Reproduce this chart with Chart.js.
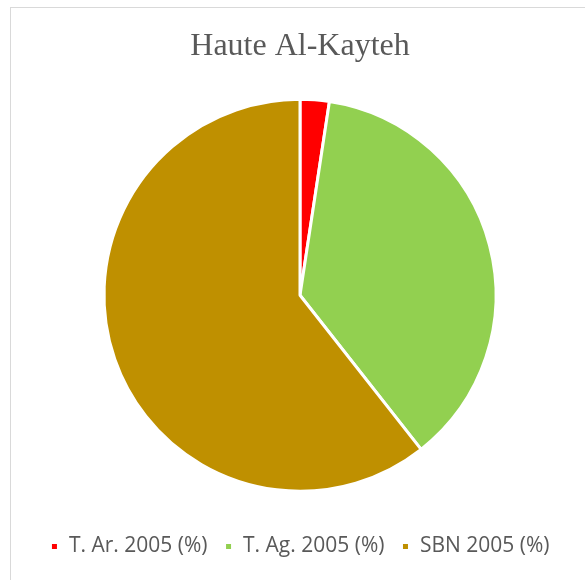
<!DOCTYPE html>
<html>
<head>
<meta charset="utf-8">
<script src="https://cdn.jsdelivr.net/npm/chart.js@4/dist/chart.umd.min.js"></script>
<style>
  html, body { margin: 0; padding: 0; background: #fff; }
  #wrap { position: relative; width: 585px; height: 580px; overflow: hidden; }
  #frame { position: absolute; left: 10px; top: 7px; width: 700px; height: 700px; border: 1px solid #d9d9d9; }
  #chart { position: absolute; left: 0; top: 0; }
</style>
</head>
<body>
<div id="wrap">
  <div id="frame"></div>
  <canvas id="chart" width="585" height="580"></canvas>
</div>
<script>
const labels = ["T. Ar. 2005 (%)", "T. Ag. 2005 (%)", "SBN 2005 (%)"];
const values = [2.4, 37.0, 60.6];
const colors = ["#ff0000", "#92d050", "#bf9000"];

const ctx = document.getElementById("chart");
new Chart(ctx, {
  type: "pie",
  data: {
    labels: labels,
    datasets: [
      {
        data: values,
        backgroundColor: colors,
        borderColor: "#ffffff",
        borderWidth: 3,
      },
    ],
  },
  options: {
    responsive: false,
    animation: false,
    radius: 196,
    layout: {
      padding: { left: 15, right: 0, top: 0, bottom: 13 },
    },
    plugins: {
      title: {
        display: true,
        text: "Haute Al-Kayteh",
        color: "#595959",
        font: { family: "'Liberation Serif', 'Times New Roman', serif", size: 32, weight: "normal" },
        padding: { top: 27, bottom: 6 },
      },
      legend: {
        position: "bottom",
        labels: {
          color: "#595959",
          font: { family: "'Open Sans', sans-serif", size: 21 },
          boxWidth: 8,
          boxHeight: 8,
          padding: 17,
        },
      },
      tooltip: { enabled: false },
    },
  },
});
</script>
</body>
</html>
